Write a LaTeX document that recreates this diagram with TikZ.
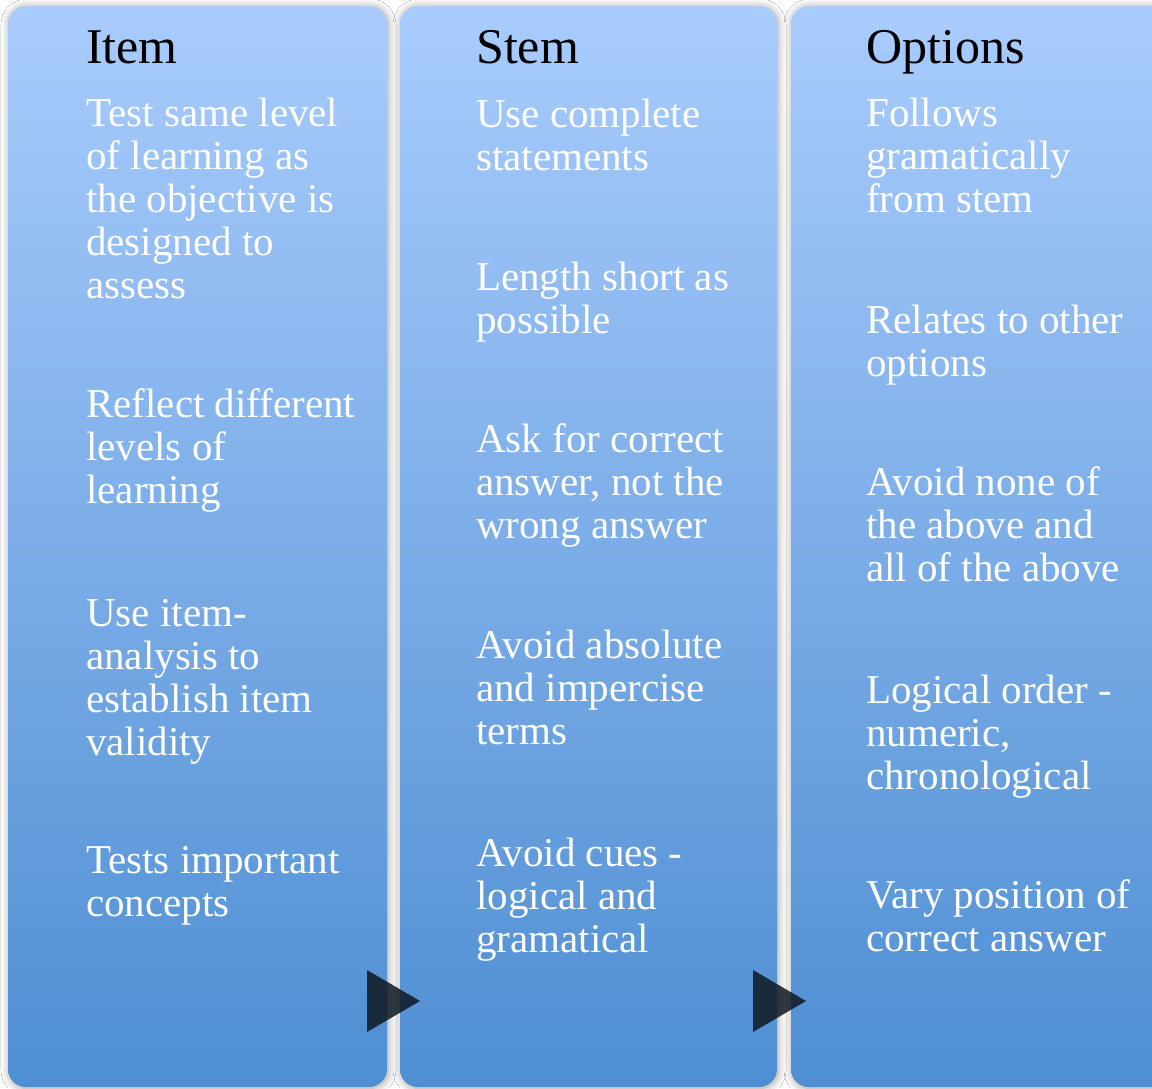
\documentclass[tikz,border=0pt]{standalone}
\usepackage{fontspec}
\setmainfont{Liberation Serif}
\usetikzlibrary{shadows.blur}
\definecolor{paneltop}{RGB}{169,204,253}
\definecolor{panelbot}{RGB}{78,142,210}
\definecolor{arrowdark}{RGB}{14,24,34}
\tikzset{
  panel/.style={rounded corners=18pt, top color=paneltop, bottom color=panelbot, draw=none,
    blur shadow={shadow xshift=1pt, shadow yshift=-1pt, shadow blur radius=8pt, shadow opacity=40}},
  head/.style={anchor=base west, inner sep=0pt, text=black, font=\fontsize{50}{54}\selectfont},
  % multi-line blocks: the base anchor sits on the last line
  body/.style={anchor=base west, inner sep=0pt, text=white, align=left, font=\fontsize{41}{43}\selectfont},
  chevron/.style={fill=arrowdark, fill opacity=0.85, draw=none}
}
\begin{document}
\begin{tikzpicture}[x=1pt,y=-1pt]
  \clip (0,0) rectangle (1152,1088);
  \fill[white] (0,0) rectangle (1152,1088);
  % three columns
  \path[panel] (8,6) rectangle (387,1087);
  \path[panel] (400,6) rectangle (777,1087);
  \path[panel] (791,6) rectangle (1172,1087);

  % column: Item
  \node[head] (itemhead) at (86,63) {Item};
  \node[body] (item1) at (86,298) {Test same level\\of learning as\\the objective is\\designed to\\assess};
  \node[body] (item2) at (86,503) {Reflect different\\levels of\\learning};
  \node[body] (item3) at (86,755) {Use item-\\analysis to\\establish item\\validity};
  \node[body] (item4) at (86,916) {Tests important\\concepts};

  % column: Stem
  \node[head] (stemhead) at (476,63) {Stem};
  \node[body] (stem1) at (476,170) {Use complete\\statements};
  \node[body] (stem2) at (476,333) {Length short as\\possible};
  \node[body] (stem3) at (476,538) {Ask for correct\\answer, not the\\wrong answer};
  \node[body] (stem4) at (476,744) {Avoid absolute\\and impercise\\terms};
  \node[body] (stem5) at (476,952) {Avoid cues -\\logical and\\gramatical};

  % column: Options
  \node[head] (opthead) at (866,63) {Options};
  \node[body] (opt1) at (866,212) {Follows\\gramatically\\from stem};
  \node[body] (opt2) at (866,376) {Relates to other\\options};
  \node[body] (opt3) at (866,581) {Avoid none of\\the above and\\all of the above};
  \node[body] (opt4) at (866,789) {Logical order -\\numeric,\\chronological};
  \node[body] (opt5) at (866,951) {Vary position of\\correct answer};

  % flow markers between columns
  \fill[chevron] (367,970) -- (367,1032) -- (420,1001) -- cycle;
  \fill[chevron] (753,970) -- (753,1032) -- (806,1001) -- cycle;
\end{tikzpicture}
\end{document}
